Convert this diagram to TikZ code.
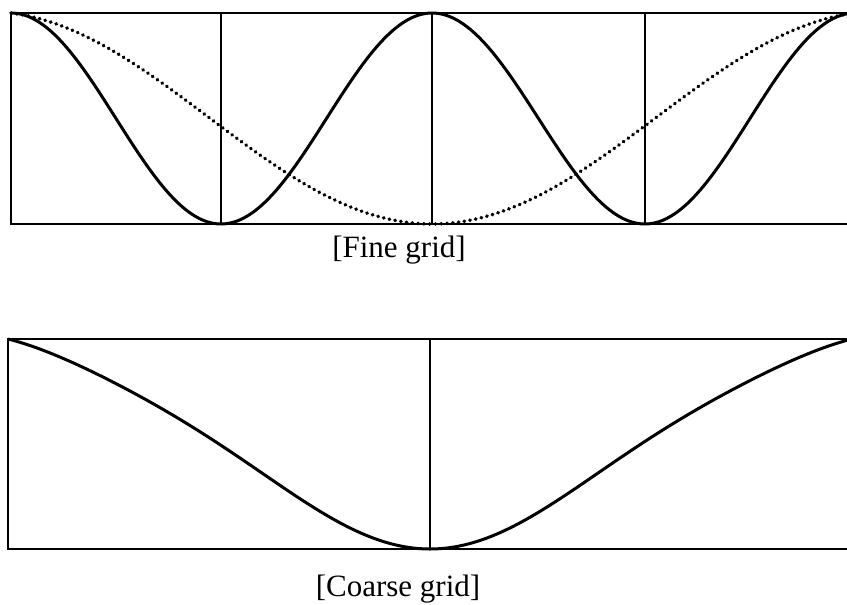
\documentclass[tikz,border=0pt]{standalone}
\usepackage{fontspec}
\setmainfont{Liberation Serif}
\begin{document}
\begin{tikzpicture}[x=1pt,y=-1pt,
  frame/.style={line width=2.8pt},
  curve/.style={line width=3pt},
  dotcurve/.style={line width=3.6pt, line cap=round, dash pattern=on 0.4pt off 5.4pt},
  label/.style={font=\fontsize{31}{36}\selectfont, anchor=base, inner sep=0pt},
  declare function={
    bowl(\u)=(1-cos(180*\u))/2+0.08*sin(180*\u)*(1-\u);
    cbowl(\u)=(1-cos(180*\u))/2+0.08*sin(360*\u)*(1-\u);
  }]
\useasboundingbox (0,0) rectangle (847,605);
\clip (0,0) rectangle (847,605);
% ---------- fine grid ----------
\coordinate (f1) at (11,13);
\coordinate (f2) at (856,224);
\draw[frame] (f1) rectangle (f2);
\draw[frame] (221,13) -- (221,224);
\draw[frame] (432,13) -- (432,224);
\draw[frame] (645,13) -- (645,224);
\draw[curve] plot[domain=11:221, samples=80] (\x, {13+211*(1-cos(180/210*(\x-11)))/2});
\draw[curve] plot[domain=221:432, samples=80] (\x, {13+211*(1+cos(180/211*(\x-221)))/2});
\draw[curve] plot[domain=432:645, samples=80] (\x, {13+211*(1-cos(180/213*(\x-432)))/2});
\draw[curve] plot[domain=645:855, samples=80] (\x, {13+211*(1+cos(180/210*(\x-645)))/2});
\draw[dotcurve] plot[domain=11:432, samples=120] (\x, {13+211*bowl((\x-11)/421)})
  -- plot[domain=432:855, samples=120] (\x, {13+211*bowl((855-\x)/423)});
\node[label] (fine) at (399,257) {[Fine grid]};
% ---------- coarse grid ----------
\coordinate (c1) at (8,339);
\coordinate (c2) at (856,549);
\draw[frame] (c1) rectangle (c2);
\draw[frame] (430,339) -- (430,549);
\draw[curve] plot[domain=8:430, samples=120] (\x, {339+210*cbowl((\x-8)/422)})
  -- plot[domain=430:852, samples=120] (\x, {339+210*cbowl((852-\x)/422)});
\node[label] (coarse) at (398,596) {[Coarse grid]};
\end{tikzpicture}
\end{document}
